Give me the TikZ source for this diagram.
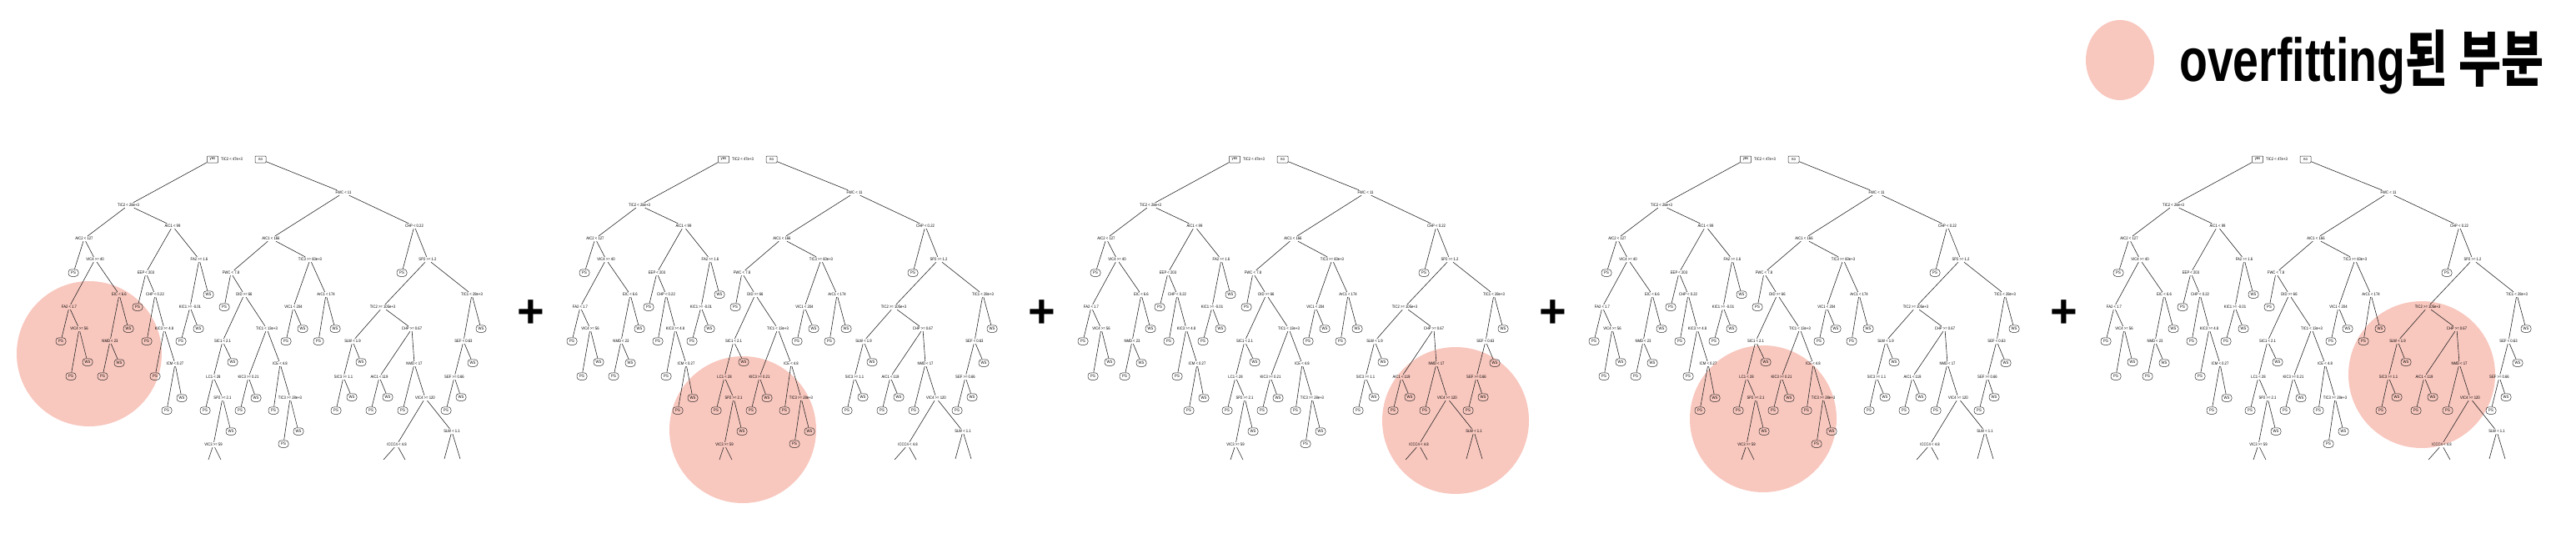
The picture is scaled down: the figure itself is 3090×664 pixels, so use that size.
\documentclass[tikz,border=0pt]{standalone}
\usepackage{graphicx}
\usepackage{fontspec}
\setmainfont{Liberation Sans}
\newfontfamily\krfont{Noto Sans CJK KR}
\definecolor{pinkc}{RGB}{248,199,190}
\tikzset{
  split/.style={inner sep=1.2pt, font=\fontsize{5}{6}\selectfont},
  leaf/.style={draw=black!85, line width=0.5pt, rounded corners=3.5pt, minimum width=12pt, minimum height=8.5pt, inner sep=0pt, font=\fontsize{5}{6}\selectfont},
  yn/.style={draw=black!85, line width=0.5pt, rounded corners=0.8pt, minimum width=13pt, minimum height=8pt, inner sep=0pt, font=\fontsize{5}{6}\selectfont},
  edge/.style={draw=black!85, line width=0.6pt},
  blob/.style={fill=pinkc, draw=none},
  plussign/.style={inner sep=0pt, font=\fontsize{56}{56}\selectfont\bfseries},
}
\newcommand\lbl[1]{\scalebox{0.84}[1]{#1}}
\newcommand\trS[3]{\node[split] (#1) at (#2) {\lbl{#3}};}
\newcommand\trL[3]{\node[leaf] (#1) at (#2) {\lbl{#3}};}
\newcommand\trE[2]{\draw[edge] (#1) -- (#2);}
\newcommand\drawtree{%
  \node[yn] (yes) at (255,191) {\lbl{yes}};
  \node[split] (r) at (278,191) {\lbl{TIC2 < 47e+3}};
  \node[yn] (no) at (312.5,191) {\lbl{no}};
  \trS{n1}{154,246}{TIC2 < 28e+3}
  \trS{n2}{412,231}{FWC < 11}
  \trS{n3}{101,286}{AIC2 < 127}
  \trS{n4}{207,271}{AIC1 < 99}
  \trS{n5}{114,311}{VIC4 >= 40}
  \trS{n6}{83,368}{FA2 < 1.7}
  \trS{n7}{143,353}{EIC < 6.6}
  \trS{n8}{95,394}{VIC4 >= 56}
  \trS{n9}{132,409}{NMD < 23}
  \trS{n10}{175,327}{EEP < 203}
  \trS{n11}{239,311}{FA2 >= 1.6}
  \trS{n12}{186,353}{CHP < 0.22}
  \trS{n13}{197,394}{KIC3 >= 4.8}
  \trS{n14}{210,436}{ICM < 0.27}
  \trS{n15}{228,368}{KIC1 >= -0.01}
  \trS{n16}{325,286}{AIC1 < 166}
  \trS{n17}{497,271}{CHP < 0.22}
  \trS{n18}{277,327}{FWC < 7.8}
  \trS{n19}{372,311}{TIC3 >= 60e+3}
  \trS{n20}{293,353}{DID >= 66}
  \trS{n21}{267,409}{SIC1 < 2.1}
  \trS{n22}{320,394}{TIC1 < 13e+3}
  \trS{n23}{256,452}{LC1 < 28}
  \trS{n24}{267,477}{SP2 >= 2.1}
  \trS{n25}{256,533}{VIC3 >= 59}
  \trS{n26}{298,452}{KIC3 >= 0.21}
  \trS{n27}{336,436}{ICE < 4.8}
  \trS{n28}{348,477}{TIC3 >= 28e+3}
  \trS{n29}{352,368}{VIC1 < 204}
  \trS{n30}{391,353}{ArC1 < 174}
  \trS{n31}{513,311}{SP2 >= 1.2}
  \trS{n32}{459,368}{TIC2 >= 105e+3}
  \trS{n33}{566,353}{TIC1 < 28e+3}
  \trS{n34}{423,409}{SLW < 1.9}
  \trS{n35}{494,394}{CHP >= 0.67}
  \trS{n36}{412,452}{SIC3 >= 1.1}
  \trS{n37}{455,452}{AIC1 < 119}
  \trS{n38}{497,436}{NMD < 17}
  \trS{n39}{510,477}{VIC4 >= 120}
  \trS{n40}{476,533}{ICCC4 < 4.8}
  \trS{n41}{542,517}{SLW < 1.1}
  \trS{n42}{556,409}{SEF < 0.63}
  \trS{n43}{545,452}{SEF >= 0.66}
  \trL{l1}{88,327}{PS}
  \trL{l2}{73,409}{PS}
  \trL{l3}{85,451}{PS}
  \trL{l4}{105,434}{WS}
  \trL{l5}{154,394}{WS}
  \trL{l6}{123,451}{PS}
  \trL{l7}{143,435}{WS}
  \trL{l8}{165,368}{PS}
  \trL{l9}{176,409}{PS}
  \trL{l10}{186,451}{PS}
  \trL{l11}{200,492}{PS}
  \trL{l12}{218,477}{WS}
  \trL{l13}{250,353}{WS}
  \trL{l14}{217,409}{PS}
  \trL{l15}{238,394}{WS}
  \trL{l16}{269,368}{PS}
  \trL{l17}{279,434}{WS}
  \trL{l18}{246,492}{PS}
  \trL{l19}{277,517}{WS}
  \trL{l20}{288,492}{PS}
  \trL{l21}{307,477}{WS}
  \trL{l22}{328,492}{PS}
  \trL{l23}{340,532}{PS}
  \trL{l24}{358,517}{WS}
  \trL{l25}{343,409}{PS}
  \trL{l26}{363,394}{WS}
  \trL{l27}{382,409}{PS}
  \trL{l28}{402,394}{WS}
  \trL{l29}{482,327}{PS}
  \trL{l30}{433,434}{WS}
  \trL{l31}{403,492}{PS}
  \trL{l32}{422,476}{WS}
  \trL{l33}{445,492}{PS}
  \trL{l34}{465,476}{WS}
  \trL{l35}{483,492}{PS}
  \trL{l36}{577,394}{WS}
  \trL{l37}{567,435}{WS}
  \trL{l38}{535,492}{PS}
  \trL{l39}{553,476}{WS}
  \coordinate (s1) at (250,551);
  \coordinate (s2) at (265,551);
  \coordinate (s3) at (460,551);
  \coordinate (s4) at (486,551);
  \coordinate (s5) at (533,550);
  \coordinate (s6) at (552,550);
  \trE{yes}{n1}\trE{no}{n2}
  \trE{n1}{n3}\trE{n1}{n4}
  \trE{n3}{l1}\trE{n3}{n5}
  \trE{n5}{n6}\trE{n5}{n7}
  \trE{n6}{l2}\trE{n6}{n8}
  \trE{n8}{l3}\trE{n8}{l4}
  \trE{n7}{n9}\trE{n7}{l5}
  \trE{n9}{l6}\trE{n9}{l7}
  \trE{n4}{n10}\trE{n4}{n11}
  \trE{n10}{l8}\trE{n10}{n12}
  \trE{n12}{l9}\trE{n12}{n13}
  \trE{n13}{l10}\trE{n13}{n14}
  \trE{n14}{l11}\trE{n14}{l12}
  \trE{n11}{n15}\trE{n11}{l13}
  \trE{n15}{l14}\trE{n15}{l15}
  \trE{n2}{n16}\trE{n2}{n17}
  \trE{n16}{n18}\trE{n16}{n19}
  \trE{n18}{l16}\trE{n18}{n20}
  \trE{n20}{n21}\trE{n20}{n22}
  \trE{n21}{n23}\trE{n21}{l17}
  \trE{n23}{l18}\trE{n23}{n24}
  \trE{n24}{n25}\trE{n24}{l19}
  \trE{n25}{s1}\trE{n25}{s2}
  \trE{n22}{n26}\trE{n22}{n27}
  \trE{n26}{l20}\trE{n26}{l21}
  \trE{n27}{l22}\trE{n27}{n28}
  \trE{n28}{l23}\trE{n28}{l24}
  \trE{n19}{n29}\trE{n19}{n30}
  \trE{n29}{l25}\trE{n29}{l26}
  \trE{n30}{l27}\trE{n30}{l28}
  \trE{n17}{l29}\trE{n17}{n31}
  \trE{n31}{n32}\trE{n31}{n33}
  \trE{n32}{n34}\trE{n32}{n35}
  \trE{n34}{n36}\trE{n34}{l30}
  \trE{n36}{l31}\trE{n36}{l32}
  \trE{n35}{n37}\trE{n35}{n38}
  \trE{n37}{l33}\trE{n37}{l34}
  \trE{n38}{l35}\trE{n38}{n39}
  \trE{n39}{n40}\trE{n39}{n41}
  \trE{n40}{s3}\trE{n40}{s4}
  \trE{n41}{s5}\trE{n41}{s6}
  \trE{n33}{n42}\trE{n33}{l36}
  \trE{n42}{n43}\trE{n42}{l37}
  \trE{n43}{l38}\trE{n43}{l39}
}
\begin{document}
\begin{tikzpicture}[x=1pt, y=-1pt]
  \useasboundingbox (0,0) rectangle (3090,664);
  % overfitting regions
  \fill[blob] (107,424) circle[radius=87];
  \fill[blob] (891,515) circle[radius=88];
  \fill[blob] (1746,504) circle[radius=88];
  \fill[blob] (2115,502) circle[radius=88];
  \fill[blob] (2905,449) circle[radius=88];
  % legend
  \fill[blob] (2543,72) ellipse[x radius=41, y radius=48];
  \node[anchor=base west, inner sep=0pt, font=\fontsize{73}{73}\selectfont\bfseries] (legend) at (2614,97)
    {\scalebox{0.76}[1]{overfitting{\krfont 된 부분}}};
  % trees
  \begin{scope}[name prefix=t1-]\drawtree\end{scope}
  \begin{scope}[shift={(613,0)}, name prefix=t2-]\drawtree\end{scope}
  \begin{scope}[shift={(1226,0)}, name prefix=t3-]\drawtree\end{scope}
  \begin{scope}[shift={(1839,0)}, name prefix=t4-]\drawtree\end{scope}
  \begin{scope}[shift={(2453,0)}, name prefix=t5-]\drawtree\end{scope}
  % plus signs
  \node[plussign] (p1) at (637,376) {+};
  \node[plussign] (p2) at (1250,376) {+};
  \node[plussign] (p3) at (1863,376) {+};
  \node[plussign] (p4) at (2476,376) {+};
\end{tikzpicture}
\end{document}
